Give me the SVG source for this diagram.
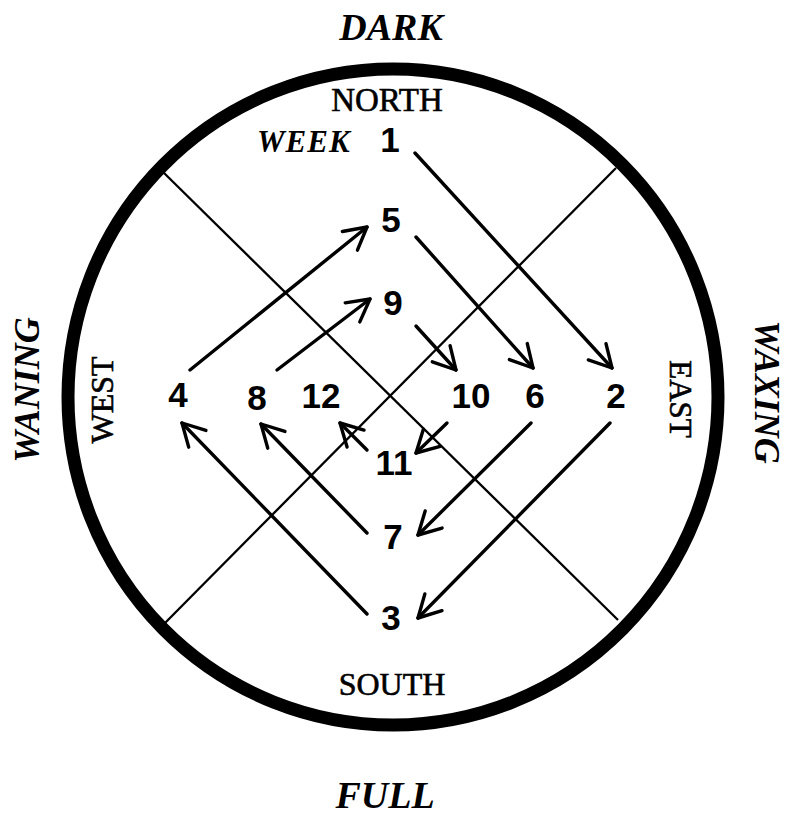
<svg xmlns="http://www.w3.org/2000/svg" width="790" height="819" viewBox="0 0 790 819">
<style>
.lbl{font-family:"Liberation Serif","Times New Roman",serif;fill:#000;stroke:#000;stroke-width:0.6}
.it{font-family:"Liberation Serif","Times New Roman",serif;font-style:italic;font-weight:bold;fill:#000}
.num{font-family:"Liberation Sans",Arial,sans-serif;font-weight:bold;font-size:35px;fill:#000;text-anchor:middle}
.arr{stroke:#000;stroke-width:3.4;fill:none;stroke-linecap:round;marker-end:url(#ah)}
.thin{stroke:#000;stroke-width:2.3;fill:none}
</style>
<defs>
<marker id="ah" markerUnits="userSpaceOnUse" viewBox="-30 -20 40 40" refX="0" refY="0" markerWidth="40" markerHeight="40" orient="auto">
<path d="M-22,-12 L0,0 L-22,12" fill="none" stroke="#000" stroke-width="3.4" stroke-linecap="round" stroke-linejoin="round"/>
</marker>
</defs>
<rect width="790" height="819" fill="#fff"/>
<g id="circle">
<ellipse cx="393" cy="397" rx="325" ry="328" fill="none" stroke="#000" stroke-width="13"/>
<line class="thin" x1="163" y1="172" x2="618" y2="620"/>
<line class="thin" x1="616" y1="168" x2="165" y2="623"/>
</g>
<g id="labels">
<text class="it" x="391" y="40" font-size="38" text-anchor="middle">DARK</text>
<text class="it" x="385" y="808" font-size="38" text-anchor="middle">FULL</text>
<text class="lbl" x="387" y="111" font-size="33" text-anchor="middle">NORTH</text>
<text class="lbl" x="392" y="695" font-size="32" text-anchor="middle">SOUTH</text>
<text class="it" x="257" y="152" font-size="31" letter-spacing="1">WEEK</text>
<text class="lbl" font-size="32" text-anchor="middle" transform="translate(113,400) rotate(-90)">WEST</text>
<text class="lbl" font-size="31" text-anchor="middle" transform="translate(670,399) rotate(90)">EAST</text>
<text class="it" font-size="36" text-anchor="middle" transform="translate(39,390) rotate(-90)">WANING</text>
<text class="it" font-size="36" text-anchor="middle" transform="translate(755,392) rotate(90)">WAXING</text>
</g>
<g id="n1"><text class="num" x="390" y="152">1</text></g>
<g id="n2"><text class="num" x="616" y="408">2</text></g>
<g id="n3"><text class="num" x="391" y="630">3</text></g>
<g id="n4"><text class="num" x="178" y="407">4</text></g>
<g id="n5"><text class="num" x="391" y="232">5</text></g>
<g id="n6"><text class="num" x="535" y="408">6</text></g>
<g id="n7"><text class="num" x="393" y="549">7</text></g>
<g id="n8"><text class="num" x="257" y="410">8</text></g>
<g id="n9"><text class="num" x="393" y="315">9</text></g>
<g id="n10"><text class="num" x="471" y="408">10</text></g>
<g id="n11"><text class="num" x="394" y="475">11</text></g>
<g id="n12"><text class="num" x="321" y="408">12</text></g>
<g id="connectors">
<line class="arr" x1="415" y1="153" x2="612" y2="368"/>
<line class="arr" x1="610" y1="423" x2="418" y2="618"/>
<line class="arr" x1="367" y1="614" x2="182" y2="423"/>
<line class="arr" x1="190" y1="370" x2="367" y2="227"/>
<line class="arr" x1="416" y1="237" x2="533" y2="368"/>
<line class="arr" x1="531" y1="423" x2="418" y2="535"/>
<line class="arr" x1="367" y1="533" x2="261" y2="424"/>
<line class="arr" x1="277" y1="370" x2="370" y2="299"/>
<line class="arr" x1="416" y1="326" x2="456" y2="370"/>
<line class="arr" x1="447" y1="423" x2="416" y2="453"/>
<line class="arr" x1="367" y1="450" x2="340" y2="423"/>
</g>
</svg>
